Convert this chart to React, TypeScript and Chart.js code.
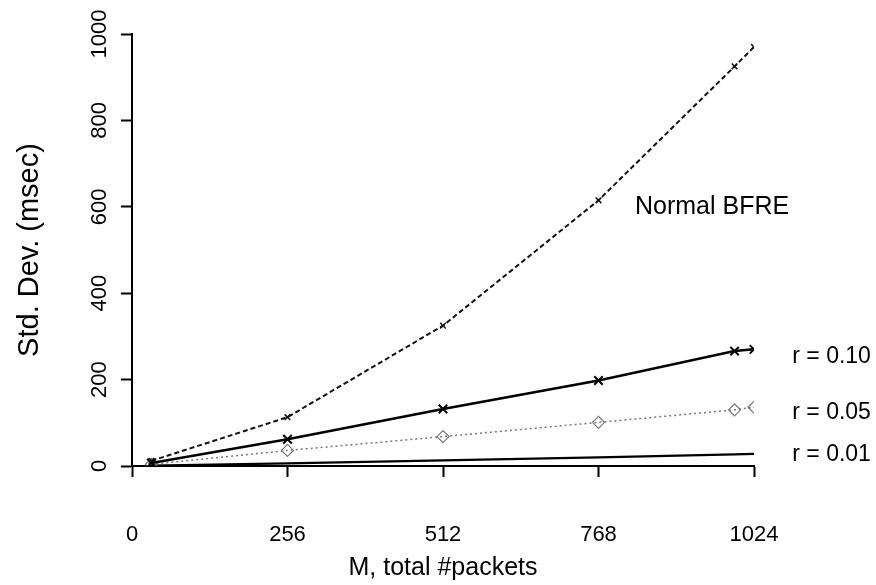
import React, { useEffect, useRef } from "react";
import { Chart, registerables } from "chart.js";

Chart.register(...registerables);

const packets = [32, 256, 512, 768, 992, 1024];
const normalBFRE = [12, 113, 325, 615, 925, 970];
const r010 = [7, 62, 132, 198, 266, 270];
const r005 = [4, 36, 68, 101, 130, 136];
const r001 = [1, 6, 13, 20, 27, 28];
const xTicks = [0, 256, 512, 768, 1024];
const yTicks = [0, 200, 400, 600, 800, 1000];

const seriesLabels = [
  { text: "Normal BFRE", x: 828, y: 600, size: 25 },
  { text: "r = 0.10", x: 1087, y: 254, size: 23 },
  { text: "r = 0.05", x: 1087, y: 123, size: 23 },
  { text: "r = 0.01", x: 1087, y: 26, size: 23 },
];

const FONT = '"Liberation Sans", Arial, Helvetica, sans-serif';

const toPoints = (ys: number[]) => packets.map((x, i) => ({ x, y: ys[i] }));

const textPlugin = {
  id: "textPlugin",
  afterDraw(chart: any) {
    const ctx = chart.ctx;
    const xs = chart.scales.x;
    const ys = chart.scales.y;
    ctx.save();
    ctx.fillStyle = "#000";
    ctx.font = `22px ${FONT}`;
    ctx.textAlign = "center";
    ctx.textBaseline = "middle";
    for (const v of yTicks) {
      const py = ys.getPixelForValue(v);
      ctx.save();
      ctx.translate(100, py);
      ctx.rotate(-Math.PI / 2);
      ctx.fillText(String(v), 0, 0);
      ctx.restore();
    }
    ctx.textAlign = "left";
    for (const l of seriesLabels) {
      ctx.font = `${l.size}px ${FONT}`;
      ctx.fillText(l.text, xs.getPixelForValue(l.x), ys.getPixelForValue(l.y));
    }
    ctx.restore();
  },
};

export default function App() {
  const ref = useRef<HTMLCanvasElement | null>(null);
  useEffect(() => {
    if (!ref.current) return;
    const chart = new Chart(ref.current, {
      type: "line",
      data: {
        datasets: [
          {
            label: "Normal BFRE",
            data: toPoints(normalBFRE),
            borderColor: "#111",
            borderWidth: 2,
            borderDash: [5, 3],
            pointStyle: "crossRot",
            pointRadius: 4,
            pointBorderWidth: 1.5,
            pointBorderColor: "#111",
            fill: false,
          },
          {
            label: "r = 0.10",
            data: toPoints(r010),
            borderColor: "#000",
            borderWidth: 2.5,
            pointStyle: "crossRot",
            pointRadius: 6,
            pointBorderWidth: 2,
            pointBorderColor: "#000",
            fill: false,
          },
          {
            label: "r = 0.05",
            data: toPoints(r005),
            borderColor: "#777",
            borderWidth: 1.5,
            borderDash: [2, 3],
            pointStyle: "rectRot",
            pointRadius: 6,
            pointBorderWidth: 1.2,
            pointBorderColor: "#777",
            pointBackgroundColor: "rgba(0,0,0,0)",
            fill: false,
          },
          {
            label: "r = 0.01",
            data: toPoints(r001),
            borderColor: "#000",
            borderWidth: 2.2,
            pointRadius: 0,
            fill: false,
          },
        ],
      },
      options: {
        responsive: false,
        animation: false,
        layout: { padding: { left: 0, top: 34, right: 122, bottom: 0 } },
        plugins: { legend: { display: false }, tooltip: { enabled: false } },
        scales: {
          x: {
            type: "linear",
            min: 0,
            max: 1024,
            afterBuildTicks: (s: any) => {
              s.ticks = xTicks.map((v) => ({ value: v }));
            },
            afterFit: (s: any) => {
              s.height = 119;
            },
            grid: {
              drawOnChartArea: false,
              drawTicks: true,
              tickLength: 11,
              tickWidth: 2,
              tickColor: "#000",
            },
            border: { display: true, color: "#000", width: 2 },
            ticks: {
              color: "#000",
              font: { family: FONT, size: 22 },
              padding: 45,
              maxRotation: 0,
              callback: (v: any) => String(v),
            },
            title: {
              display: true,
              text: "M, total #packets",
              color: "#000",
              font: { family: FONT, size: 25 },
              padding: { top: 2, bottom: 2 },
            },
          },
          y: {
            type: "linear",
            min: 0,
            max: 1000,
            afterBuildTicks: (s: any) => {
              s.ticks = yTicks.map((v) => ({ value: v }));
            },
            afterFit: (s: any) => {
              s.width = 132;
            },
            grid: {
              drawOnChartArea: false,
              drawTicks: true,
              tickLength: 11,
              tickWidth: 2,
              tickColor: "#000",
            },
            border: { display: true, color: "#000", width: 2 },
            ticks: { display: false },
            title: {
              display: true,
              text: "Std. Dev. (msec)",
              color: "#000",
              font: { family: FONT, size: 29 },
              padding: { top: 13, bottom: 0 },
            },
          },
        },
      },
      plugins: [textPlugin],
    });
    return () => chart.destroy();
  }, []);
  return (
    <div style={{ position: "fixed", left: 0, top: 0, width: 876, height: 585, background: "#fff" }}>
      <canvas ref={ref} width={876} height={585} style={{ display: "block" }} />
    </div>
  );
}
